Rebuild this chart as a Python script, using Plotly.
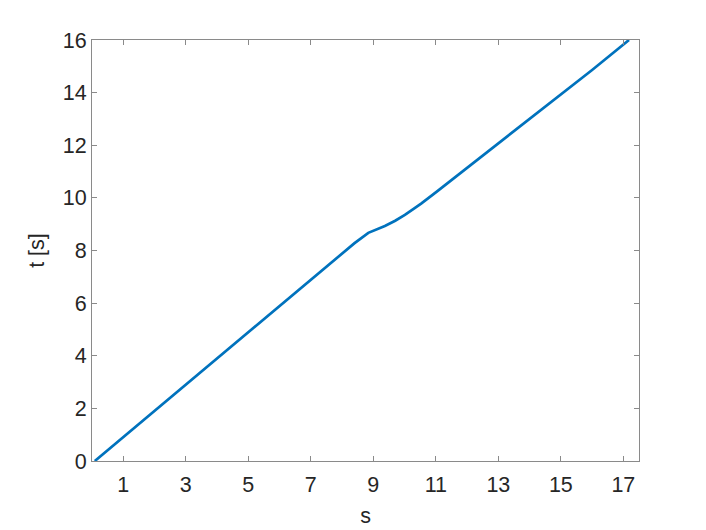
import plotly.graph_objects as go

s = [0.09, 2.5, 5.0, 7.0, 8.4, 8.84, 9.1, 9.37, 9.7, 10.01, 10.3, 10.54, 11.02,
     12.0, 13.0, 14.0, 15.0, 16.0, 17.18]
t = [0.0, 2.41, 4.9, 6.89, 8.28, 8.67, 8.80, 8.93, 9.13, 9.35, 9.59, 9.79, 10.23,
     11.14, 12.07, 13.0, 13.93, 14.86, 16.0]

x_ticks = [1, 3, 5, 7, 9, 11, 13, 15, 17]
y_ticks = [0, 2, 4, 6, 8, 10, 12, 14, 16]

fig = go.Figure(
    go.Scatter(x=s, y=t, mode="lines", line=dict(color="#0072BD", width=2.7))
)

axis_style = dict(
    showgrid=False, zeroline=False, showline=True, linecolor="#8a8a8a", linewidth=1,
    mirror="ticks", ticks="inside", ticklen=5, tickcolor="#8a8a8a",
    tickfont=dict(size=21.5, color="#262626"), automargin=False,
)

fig.update_xaxes(range=[0, 17.5], tickvals=x_ticks, ticklabelstandoff=4,
                 title=dict(text="s", font=dict(size=21.5, color="#262626"), standoff=12),
                 **axis_style)
fig.update_yaxes(range=[0, 16], tickvals=y_ticks,
                 title=dict(text="t [s]", font=dict(size=21.5, color="#262626"), standoff=12),
                 **axis_style)

# page body adds an 8px offset, so the figure is 8px smaller than the window
fig.update_layout(
    width=698, height=522,
    margin=dict(l=84, r=67, t=32, b=69),
    paper_bgcolor="white", plot_bgcolor="white",
    font=dict(family="Liberation Sans, Arial, sans-serif"),
    showlegend=False,
)

fig.write_html("out.html")
